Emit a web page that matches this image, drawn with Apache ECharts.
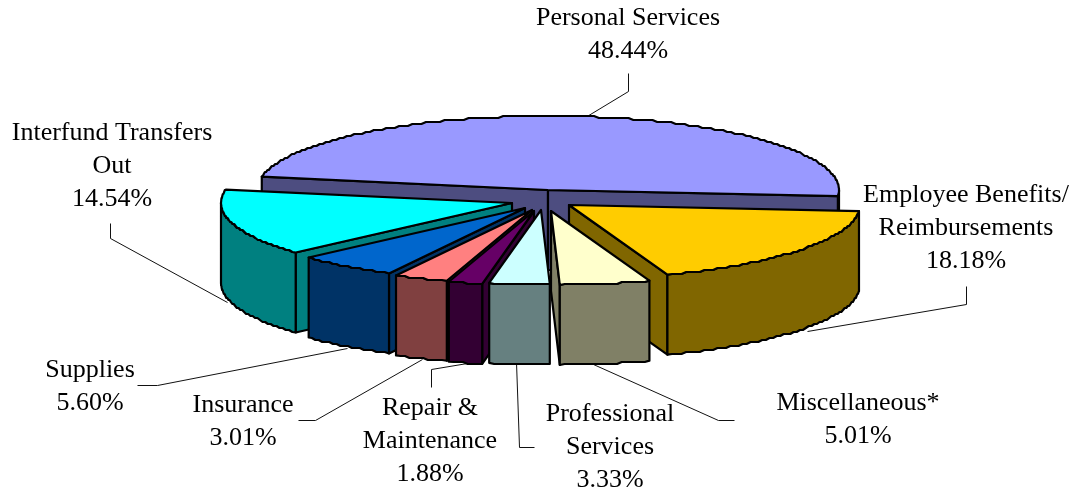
<!DOCTYPE html>
<html>
<head>
<meta charset="utf-8">
<style>
  html, body { margin: 0; padding: 0; background: #fff; }
  #main { width: 1073px; height: 491px; }
</style>
<script src="https://cdn.jsdelivr.net/npm/echarts@6/dist/echarts.min.js"></script>
</head>
<body>
<div id="main"></div>
<script>
// clockwise from Personal Services
const categories = ['Personal Services', 'Employee Benefits/\nReimbursements', 'Miscellaneous*', 'Professional\nServices', 'Repair &\nMaintenance', 'Insurance', 'Supplies', 'Interfund Transfers\nOut'];
const shares = [48.44, 18.18, 5.01, 3.33, 1.88, 3.01, 5.60, 14.54];
const topColors = ['#9999FF', '#FFCC00', '#FFFFCC', '#CCFFFF', '#660066', '#FF8080', '#0066CC', '#00FFFF'];
const sideColors = ['#4D4D80', '#806600', '#808066', '#668080', '#330033', '#804040', '#003366', '#008080'];

// layout of the fake 3d pie
const cx = 548, cy = 190, rx = 291, ry = 74, depth = 80;
const startAngle = -79.6;
const explode = [[0, 0], [21, 15], [3, 21], [-7, 20], [-14, 21], [-16, 20], [-23, 18], [-36, 13]];
const drawOrder = [0, 1, 7, 6, 5, 4, 3, 2];
const stairStep = 2; // reference outline is slightly stepped

// label anchors (center x, first line center y) and leader polylines
const labelPos = [[628, 18], [966, 195], [858, 403], [610, 414], [430, 408], [243, 405], [90, 370], [112, 133]];
const leaders = [
  [[628, 73], [628, 91], [585, 117]],
  [[966, 286], [966, 304], [807, 331]],
  [[734, 420], [718, 420], [593, 364]],
  [[534, 447], [519, 447], [516, 362]],
  [[431, 387], [431, 369], [467, 363]],
  [[298, 420], [315, 420], [422, 359]],
  [[137, 385], [157, 385], [347, 348]],
  [[110, 223], [110, 238], [227, 302]]
];
const lineHeight = 33;

const rad = d => d * Math.PI / 180;
// point on the top ellipse, theta clockwise from 12 o'clock
const rim = (ax, ay, t) => [ax + rx * Math.sin(rad(t)), ay - ry * Math.cos(rad(t))];

let acc = startAngle;
const slices = shares.map((s, i) => {
  const from = acc;
  acc += s * 3.6;
  return { from, to: acc, ax: cx + explode[i][0], ay: cy + explode[i][1] };
});

function arcPoints(ax, ay, a, b) {
  const pts = [];
  const n = Math.max(2, Math.ceil(b - a));
  for (let k = 0; k <= n; k++) {
    const p = rim(ax, ay, a + (b - a) * k / n);
    if (k > 0 && k < n) p[1] = Math.round(p[1] / stairStep) * stairStep;
    pts.push(p);
  }
  return pts;
}

const lineStyle = { stroke: '#000', lineWidth: 2.2, lineJoin: 'round' };

function poly(points, fill) {
  return { type: 'polygon', shape: { points }, style: Object.assign({ fill }, lineStyle) };
}

function renderSlice(params, api) {
  const i = api.value(0);
  const s = slices[i];
  const down = p => [p[0], p[1] + depth];
  const apex = [s.ax, s.ay];
  const children = [];
  // cut faces, only when they turn toward the viewer
  if (Math.sin(rad(s.from)) < 0) {
    const p = rim(s.ax, s.ay, s.from);
    children.push(poly([apex, p, down(p), down(apex)], sideColors[i]));
  }
  if (Math.sin(rad(s.to)) > 0) {
    const p = rim(s.ax, s.ay, s.to);
    children.push(poly([apex, p, down(p), down(apex)], sideColors[i]));
  }
  // outer wall, only the part that faces the viewer
  const a = Math.max(s.from, 90), b = Math.min(s.to, 270);
  if (b > a) {
    const arc = arcPoints(s.ax, s.ay, a, b);
    children.push(poly(arc.concat(arc.map(down).reverse()), sideColors[i]));
  }
  children.push(poly([apex].concat(arcPoints(s.ax, s.ay, s.from, s.to)), topColors[i]));
  return { type: 'group', children };
}

function renderLeader(params, api) {
  return {
    type: 'polyline',
    shape: { points: leaders[api.value(0)].map(p => [p[0] + 0.5, p[1] + 0.5]) },
    style: { fill: null, stroke: '#111', lineWidth: 1 }
  };
}

function renderLabel(params, api) {
  const i = api.value(0);
  const lines = categories[i].split('\n').concat(shares[i].toFixed(2) + '%');
  return {
    type: 'group',
    children: lines.map((t, k) => ({
      type: 'text',
      style: {
        text: t,
        x: labelPos[i][0],
        y: labelPos[i][1] + k * lineHeight,
        align: 'center',
        verticalAlign: 'middle',
        fill: '#000',
        font: '26px "Liberation Serif"'
      }
    }))
  };
}

const chart = echarts.init(document.getElementById('main'), null, { renderer: 'canvas' });
chart.setOption({
  backgroundColor: '#ffffff',
  animation: false,
  xAxis: { show: false },
  yAxis: { show: false },
  series: [
    { type: 'custom', coordinateSystem: 'none', silent: true, z: 1, renderItem: renderLeader, data: categories.map((c, i) => [i]) },
    { type: 'custom', coordinateSystem: 'none', silent: true, z: 2, renderItem: renderSlice, data: drawOrder.map(i => [i]) },
    { type: 'custom', coordinateSystem: 'none', silent: true, z: 3, renderItem: renderLabel, data: categories.map((c, i) => [i]) }
  ]
});
</script>
</body>
</html>
